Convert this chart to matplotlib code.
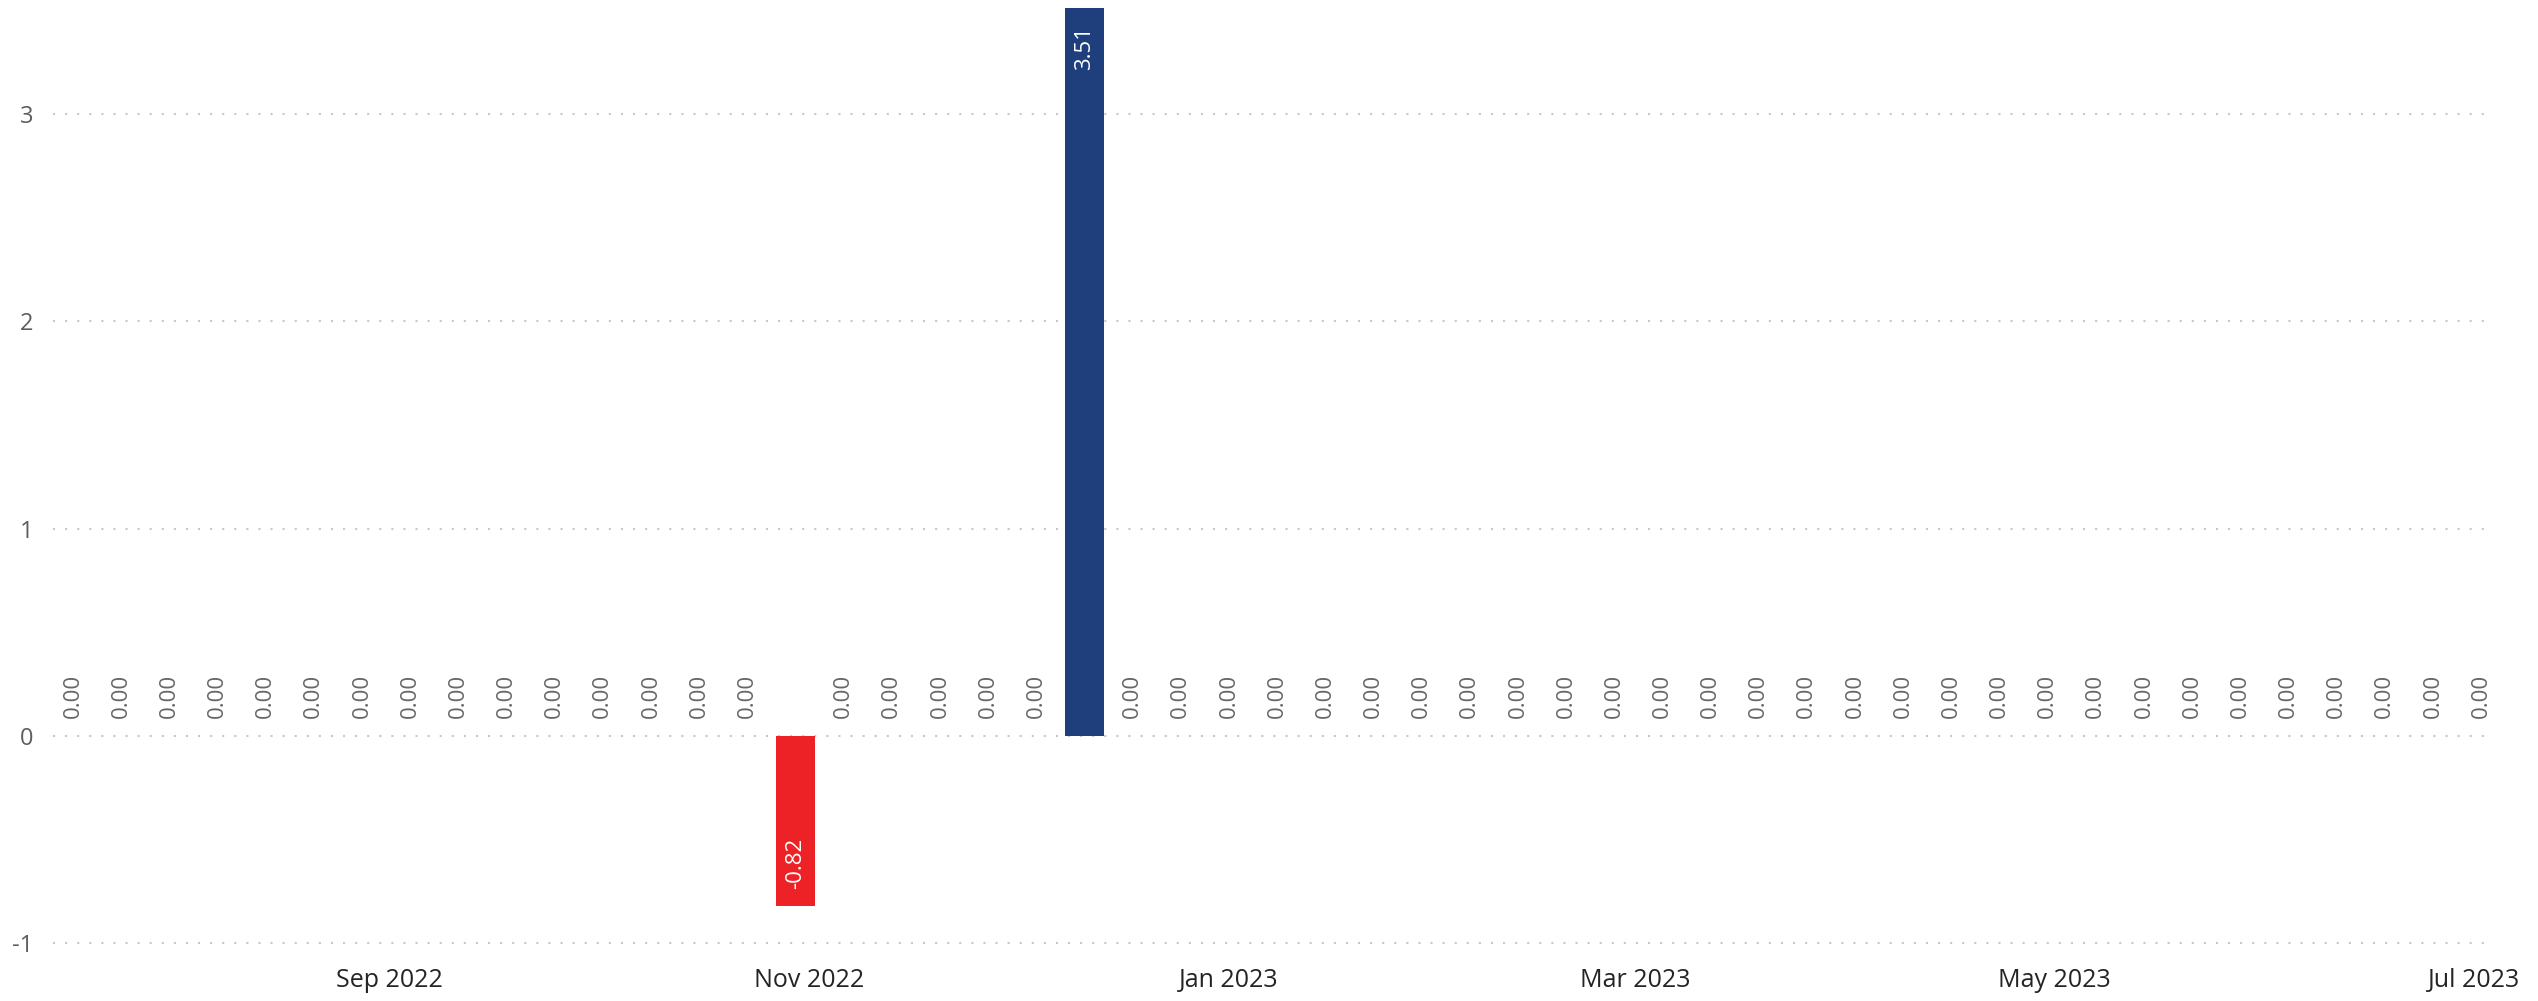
import pandas as pd
import numpy as np
import matplotlib
matplotlib.use('Agg')
import matplotlib.pyplot as plt
import matplotlib.dates as mdates

plt.rcParams['font.family'] = ['Open Sans', 'DejaVu Sans']

# weekly periods (week ending Sunday)
weeks = pd.date_range('2022-07-17', '2023-07-02', freq='W-SUN')
values = [0.00, 0.00, 0.00, 0.00, 0.00, 0.00, 0.00, 0.00, 0.00, 0.00,
          0.00, 0.00, 0.00, 0.00, 0.00, -0.82, 0.00, 0.00, 0.00, 0.00,
          0.00, 3.51, 0.00, 0.00, 0.00, 0.00, 0.00, 0.00, 0.00, 0.00,
          0.00, 0.00, 0.00, 0.00, 0.00, 0.00, 0.00, 0.00, 0.00, 0.00,
          0.00, 0.00, 0.00, 0.00, 0.00, 0.00, 0.00, 0.00, 0.00, 0.00,
          0.00]
month_ticks = ['2022-09-01', '2022-11-01', '2023-01-01', '2023-03-01',
               '2023-05-01', '2023-07-01']
y_ticks = [-1, 0, 1, 2, 3]

pos_color = '#1F3E7C'
neg_color = '#ED2227'

fig = plt.figure(figsize=(25.38, 10.01), dpi=100)
ax = fig.add_axes([0.02088, 0.04525, 0.961, 0.95255])

x = mdates.date2num(weeks.to_pydatetime())
vals = np.array(values)
colors = [pos_color if v >= 0 else neg_color for v in vals]
ax.bar(x, vals, width=5.67, color=colors, zorder=2)

for xi, v in zip(x, vals):
    if v == 0:
        ax.annotate('%.2f' % v, (xi, 0), xytext=(0, 13), textcoords='offset points',
                    rotation=90, ha='center', va='bottom', fontsize=16, color='#666666')
    elif v > 0:
        ax.annotate('%.2f' % v, (xi, v), xytext=(0, -13), textcoords='offset points',
                    rotation=90, ha='center', va='top', fontsize=16, color='white')
    else:
        ax.annotate('%.2f' % v, (xi, v), xytext=(0, 12), textcoords='offset points',
                    rotation=90, ha='center', va='bottom', fontsize=16, color='white')

ax.set_xlim(mdates.date2num(pd.Timestamp('2022-07-14 02:00')),
            mdates.date2num(pd.Timestamp('2023-07-03 14:00')))
ax.set_ylim(-1.06, 3.54)

ax.set_yticks(y_ticks)
ax.set_yticklabels([str(t) for t in y_ticks])
ax.set_xticks(mdates.date2num(pd.to_datetime(month_ticks).to_pydatetime()))
ax.xaxis.set_major_formatter(mdates.DateFormatter('%b %Y'))

ax.tick_params(axis='y', length=0, pad=14, labelsize=17, labelcolor='#605E5C')
ax.tick_params(axis='x', length=0, pad=9, labelsize=18, labelcolor='#252423')

ax.grid(axis='y', color='#C8C8C8', linewidth=1.5, linestyle=(0, (1, 4.8)), zorder=0)
ax.grid(axis='x', visible=False)
for s in ax.spines.values():
    s.set_visible(False)

fig.savefig('out.png', dpi=100, facecolor='white')
